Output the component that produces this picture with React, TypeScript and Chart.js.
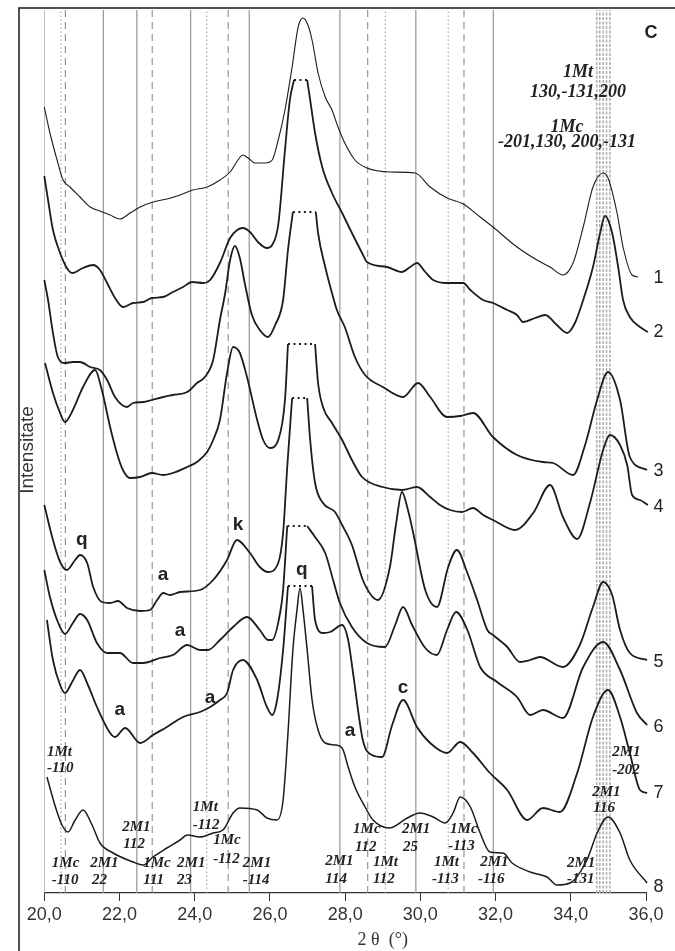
import React, { useEffect, useRef } from "react";
import { Chart, registerables } from "chart.js";

Chart.register(...registerables);

// ---- Diffractogram curves (2θ in degrees, intensity in arbitrary stacked units) ----
const c1X = [20.00,20.15,20.34,20.50,20.68,20.95,21.22,21.48,21.75,22.01,22.28,22.55,22.89,23.26,23.61,23.95,24.33,24.67,24.94,25.15,25.28,25.42,25.60,25.87,26.06,26.22,26.40,26.59,26.75,26.88,27.01,27.12,27.28,27.47,27.65,27.81,27.99,28.26,28.58,29.19,29.86,30.26,30.71,31.14,31.59,31.93,32.57,33.10,33.45,33.79,34.06,34.33,34.59,34.86,34.99,35.23,35.39,35.63,35.79];
const c1Y = [786,760,733,713,706,696,686,682,678,674,680,686,691,694,698,703,706,713,721,733,738,735,730,730,733,753,783,826,866,875,868,853,820,796,783,766,750,733,725,721,720,706,695,689,676,666,646,633,626,618,630,666,706,720,715,680,646,618,616];

const c2X = [20.00,20.10,20.23,20.42,20.60,20.74,21.03,21.30,21.48,21.67,21.88,22.09,22.36,22.63,22.86,23.16,23.42,23.69,23.93,24.22,24.41,24.67,24.94,25.13,25.28,25.47,25.68,25.92,26.06,26.22,26.40,26.53,26.64,26.99,27.07,27.20,27.39,27.65,27.92,28.18,28.45,28.58,29.11,29.51,29.73,29.91,30.13,30.34,30.71,30.97,31.14,31.33,31.67,31.93,32.31,32.57,32.73,33.05,33.32,33.63,33.90,34.11,34.33,34.59,34.78,34.91,35.10,35.26,35.39,35.57,35.84,36.05];
const c2Y = [717,693,663,640,625,620,625,628,623,610,595,586,590,591,595,596,601,606,611,610,613,630,655,663,665,661,651,645,648,668,743,793,813,813,793,760,726,700,680,660,640,631,626,621,626,630,621,613,610,610,610,603,593,590,583,578,571,575,578,568,560,570,593,626,660,677,660,626,593,576,566,561];

const c3X = [20.00,20.10,20.23,20.36,20.55,20.76,20.95,21.22,21.48,21.67,21.88,22.20,22.36,22.63,22.86,23.16,23.42,23.80,24.06,24.27,24.49,24.67,24.81,24.94,25.07,25.20,25.34,25.52,25.73,25.95,26.14,26.35,26.48,26.61,27.22,27.28,27.47,27.65,27.78,27.99,28.26,28.53,29.00,29.54,29.94,30.26,30.71,31.06,31.40,31.93,32.57,33.26,33.53,34.06,34.38,34.70,34.99,35.31,35.57,36.03];
const c3Y = [613,593,560,536,530,531,531,526,523,513,496,486,490,491,493,496,498,501,510,516,533,573,600,633,647,635,608,578,563,556,568,593,643,681,681,660,626,600,583,566,536,518,506,496,510,496,476,477,480,456,438,431,430,418,448,493,521,493,436,423];

const c4X = [20.02,20.23,20.42,20.55,20.76,21.03,21.35,21.53,21.75,21.93,22.09,22.28,22.55,22.86,23.16,23.42,23.80,24.06,24.33,24.49,24.67,24.86,25.02,25.20,25.39,25.66,25.82,26.00,26.22,26.40,26.48,27.20,27.28,27.41,27.65,27.92,28.18,28.45,29.00,29.51,29.91,30.26,30.52,30.79,31.11,31.40,31.67,31.93,32.52,33.00,33.45,33.79,34.17,34.51,34.86,35.04,35.31,35.50,35.63,35.84,36.05];
const c4Y = [530,500,480,471,483,506,523,503,466,440,423,415,416,420,418,420,426,431,441,453,473,520,546,540,516,473,453,445,453,493,549,549,510,486,470,453,433,416,406,403,406,396,388,383,381,385,378,373,363,380,408,376,354,390,443,458,448,428,398,393,388];

const c5X = [20.00,20.23,20.42,20.60,20.82,20.95,21.14,21.30,21.53,21.75,21.96,22.20,22.55,22.81,23.00,23.16,23.34,23.61,24.14,24.49,24.86,25.12,25.47,25.73,25.95,26.22,26.35,26.46,26.59,26.99,27.07,27.20,27.41,27.73,27.92,28.18,28.47,28.71,28.87,29.19,29.35,29.51,29.67,29.81,30.13,30.44,30.74,30.97,31.25,31.51,31.78,31.93,32.31,32.65,32.92,33.18,33.79,34.24,34.59,34.86,35.10,35.31,35.57,36.03];
const c5Y = [388,353,331,323,333,338,330,306,291,290,292,285,282,283,293,300,298,301,303,313,333,353,340,326,321,330,360,426,495,495,453,410,390,381,368,348,313,297,293,326,368,401,383,360,303,286,326,343,320,293,263,258,246,231,233,236,226,248,286,311,298,263,240,233];

const c6X = [20.00,20.15,20.36,20.55,20.76,20.95,21.14,21.40,21.67,22.01,22.36,22.63,23.08,23.42,23.80,24.14,24.35,24.67,25.02,25.39,25.73,25.95,26.06,26.27,26.35,26.46,26.99,27.20,27.47,27.68,27.86,28.18,28.58,29.06,29.33,29.54,29.78,30.13,30.44,30.71,30.95,31.25,31.59,32.04,32.57,32.92,33.26,33.79,34.33,34.86,35.31,35.76,36.03];
const c6Y = [323,296,271,259,270,279,273,250,240,240,230,230,235,238,248,243,243,253,266,276,263,253,253,280,303,367,367,356,340,313,290,266,250,246,268,286,268,245,238,263,281,263,226,211,196,178,183,175,226,251,223,180,168];

const c7X = [20.07,20.23,20.42,20.55,20.74,20.95,21.16,21.40,21.75,21.88,22.15,22.55,22.89,23.26,23.69,24.14,24.41,24.67,24.86,25.02,25.28,25.66,25.92,26.06,26.19,26.35,26.48,27.12,27.20,27.41,27.60,27.92,28.08,28.21,28.47,28.71,28.98,29.25,29.54,29.91,30.26,30.71,31.06,31.40,31.85,32.31,32.84,33.26,33.71,34.17,34.59,34.99,35.31,35.57,35.84,36.03];
const c7Y = [273,233,208,200,211,223,208,186,160,156,165,150,158,166,176,181,186,193,200,223,233,213,186,178,193,243,307,307,273,260,261,268,253,220,153,138,136,168,193,166,150,140,151,140,120,103,73,85,81,120,176,203,176,140,103,100];

const c8X = [20.07,20.28,20.47,20.63,20.82,21.03,21.27,21.48,21.83,22.36,22.63,22.89,23.26,23.61,23.80,24.14,24.49,24.75,25.02,25.20,25.66,25.92,26.19,26.35,26.48,26.61,26.72,26.80,26.88,26.99,27.12,27.28,27.47,27.73,27.92,28.08,28.26,28.53,28.74,29.19,29.65,29.99,30.34,30.66,30.87,31.06,31.33,31.59,31.85,32.20,32.44,32.92,33.37,33.63,33.98,34.43,34.70,34.99,35.31,35.57,36.03];
const c8Y = [116,88,68,61,73,83,68,50,40,31,28,36,45,53,58,56,60,63,80,85,83,75,73,93,160,243,283,305,283,243,193,163,150,148,145,126,106,86,73,65,75,80,76,70,80,96,86,60,41,40,30,21,16,8,10,33,60,76,60,33,10];

// truncated (clipped) peak tops: [start 2θ, end 2θ]
const clipTops: (number[] | null)[] = [null, [26.64, 26.99], [26.61, 27.22], [26.48, 27.20], [26.59, 26.99], [26.46, 26.99], [26.48, 27.12], null];

const curveNames = ["1", "2", "3", "4", "5", "6", "7", "8"];
const curveNameY = [615, 561, 422, 386, 231, 166, 100, 6];

// reference lines (2θ)
const solidRefX = [21.57, 22.46, 23.89, 25.45, 27.86, 29.88, 31.94];
const dashedRefX = [20.56, 22.87, 24.89, 28.60, 31.16];
const dottedRefX = [20.44, 24.32, 29.07, 30.74];
const clusterRefX = [34.69, 34.77, 34.86, 34.95, 35.04];

// x ticks
const xMin = 20;
const xMax = 36;
const xStep = 2;
const yMax = 885;

// phase letters
const peakLetters = ["q", "a", "k", "q", "a", "a", "a", "a", "c"];
const peakLetterX = [21.00, 23.16, 25.15, 26.85, 23.61, 22.01, 24.41, 28.13, 29.54];
const peakLetterY = [351, 316, 366, 321, 260, 181, 193, 160, 203];

// reflection annotations (left aligned, each line)
const annoText = ["1Mt","-110","1Mc","-110","2M1","22","2M1","112","1Mc","111","2M1","23","1Mt","-112","1Mc","-112","2M1","-114","2M1","114","1Mc","112","1Mt","112","2M1","25","1Mc","-113","1Mt","-113","2M1","-116","2M1","-131","2M1","116","2M1","-202"];
const annoX = [20.07,20.07,20.20,20.20,21.22,21.27,22.07,22.10,22.63,22.63,23.53,23.53,23.95,23.95,24.49,24.49,25.28,25.28,27.47,27.47,28.21,28.26,28.74,28.74,29.51,29.54,30.79,30.74,30.36,30.31,31.59,31.53,33.90,33.90,34.57,34.60,35.10,35.10];
const annoY = [141,125,30,13,30,13,66,49,30,13,30,13,86,68,53,34,30,13,32,14,64,46,31,14,64,46,64,47,31,14,31,14,30,14,101,85,141,123];

// top annotation (centered)
const topText = ["1Mt", "130,-131,200", "1Mc", "-201,130, 200,-131"];
const topX = [34.19, 34.19, 33.90, 33.90];
const topY = [821, 801, 766, 751];

const textPlugin = {
  id: "xrdTexts",
  afterDraw(chart: any) {
    const { ctx, chartArea } = chart;
    const sx = chart.scales.x;
    const sy = chart.scales.y;
    const px = (v: number) => sx.getPixelForValue(v);
    const py = (v: number) => sy.getPixelForValue(v);
    ctx.save();
    // frame
    ctx.strokeStyle = "#1a1a1a";
    ctx.lineWidth = 1.5;
    ctx.beginPath();
    ctx.moveTo(19, chart.height);
    ctx.lineTo(19, 8);
    ctx.lineTo(chart.width, 8);
    ctx.stroke();

    ctx.fillStyle = "#222";
    ctx.textBaseline = "middle";

    // y title
    ctx.save();
    ctx.translate(28, py(443));
    ctx.rotate(-Math.PI / 2);
    ctx.font = '19px "Liberation Sans", Arial, sans-serif';
    ctx.textAlign = "center";
    ctx.fillStyle = "#333";
    ctx.fillText("Intensitate", 0, 0);
    ctx.restore();

    // x title
    ctx.font = '18px "Liberation Serif", "Times New Roman", serif';
    ctx.textAlign = "center";
    ctx.fillStyle = "#333";
    ctx.fillText("2 θ  (°)", px(29.0), chartArea.bottom + 47);

    // panel letter
    ctx.fillStyle = "#222";
    ctx.font = 'bold 18px "Liberation Sans", Arial, sans-serif';
    ctx.fillText("C", px(36.13), py(860));

    // curve numbers
    ctx.font = '18px "Liberation Sans", Arial, sans-serif';
    ctx.textAlign = "left";
    curveNames.forEach((n, i) => ctx.fillText(n, px(36.2), py(curveNameY[i])));

    // phase letters
    ctx.font = 'bold 19px "Liberation Sans", Arial, sans-serif';
    ctx.textAlign = "center";
    peakLetters.forEach((t, i) => ctx.fillText(t, px(peakLetterX[i]), py(peakLetterY[i]) - 2));

    // reflection annotations
    ctx.font = 'italic bold 15px "Liberation Serif", "Times New Roman", serif';
    ctx.textAlign = "left";
    annoText.forEach((t, i) => ctx.fillText(t, px(annoX[i]), py(annoY[i])));

    ctx.font = 'italic bold 18px "Liberation Serif", "Times New Roman", serif';
    ctx.textAlign = "center";
    topText.forEach((t, i) => ctx.fillText(t, px(topX[i]), py(topY[i])));
    ctx.restore();
  },
};

function refLine(x: number, color: string, width: number, dash: number[]) {
  return {
    type: "line",
    data: [{ x, y: 0 }, { x, y: 883 }],
    borderColor: color,
    borderWidth: width,
    borderDash: dash,
    pointRadius: 0,
    tension: 0,
    fill: false,
    order: 10,
  };
}

export default function App() {
  const ref = useRef<HTMLCanvasElement | null>(null);
  useEffect(() => {
    const canvas = ref.current;
    if (!canvas) return;
    const curves = [
      [c1X, c1Y, 1.1],
      [c2X, c2Y, 1.8],
      [c3X, c3Y, 1.8],
      [c4X, c4Y, 1.8],
      [c5X, c5Y, 1.8],
      [c6X, c6Y, 1.8],
      [c7X, c7Y, 1.8],
      [c8X, c8Y, 1.5],
    ] as any[];
    const datasets: any[] = [];
    datasets.push(refLine(20.0, "#8a8a8a", 1, []));
    solidRefX.forEach((x) => datasets.push(refLine(x, "#9c9c9c", 1.3, [])));
    dashedRefX.forEach((x) => datasets.push(refLine(x, "#8c8c8c", 1.1, [7, 5])));
    dottedRefX.forEach((x) => datasets.push(refLine(x, "#a0a0a0", 1.1, [1.5, 2.5])));
    clusterRefX.forEach((x) => datasets.push(refLine(x, "#b0b0b0", 1.6, [3, 1.5])));

    curves.forEach((c, ci) => {
      const xs = c[0] as number[];
      const ys = c[1] as number[];
      const clip = clipTops[ci];
      const pts: any[] = [];
      let top = 0;
      for (let i = 0; i < xs.length; i++) {
        pts.push({ x: xs[i], y: ys[i] });
        if (clip && xs[i] === clip[0]) {
          top = ys[i];
          pts.push({ x: (clip[0] + clip[1]) / 2, y: null });
        }
      }
      datasets.push({
        type: "line",
        data: pts,
        borderColor: "#1c1c1c",
        borderWidth: c[2],
        pointRadius: 0,
        cubicInterpolationMode: "monotone",
        spanGaps: false,
        fill: false,
        clip: false,
        order: 1,
      });
      if (clip) {
        datasets.push({
          type: "line",
          data: [{ x: clip[0], y: top }, { x: clip[1], y: top }],
          borderColor: "#1c1c1c",
          borderWidth: 1.8,
          borderDash: [2, 3.5],
          pointRadius: 0,
          tension: 0,
          fill: false,
          clip: false,
          order: 1,
        });
      }
    });

    const chart = new Chart(canvas, {
      type: "line",
      data: { datasets },
      options: {
        responsive: false,
        animation: false,
        events: [],
        layout: { padding: { left: 44.3, right: 29, top: 8, bottom: 0 } },
        plugins: { legend: { display: false }, tooltip: { enabled: false } },
        scales: {
          x: {
            type: "linear",
            min: xMin,
            max: xMax,
            afterFit: (scale: any) => {
              scale.height = 58;
            },
            ticks: {
              stepSize: xStep,
              color: "#333",
              padding: 3,
              font: { family: '"Liberation Sans", Arial, sans-serif', size: 18 },
              callback: (v: any) => Number(v).toFixed(1).replace(".", ","),
            },
            grid: { drawOnChartArea: false, drawTicks: true, tickLength: 8, color: "#333", lineWidth: 1 },
            border: { display: true, color: "#333", width: 1.2 },
          },
          y: { display: false, min: 0, max: yMax },
        },
      } as any,
      plugins: [textPlugin],
    } as any);
    return () => chart.destroy();
  }, []);
  return (
    <div style={{ position: "fixed", left: 0, top: 0, width: 675, height: 951, background: "#fff" }}>
      <canvas ref={ref} width={675} height={951} style={{ display: "block", width: 675, height: 951 }} />
    </div>
  );
}
